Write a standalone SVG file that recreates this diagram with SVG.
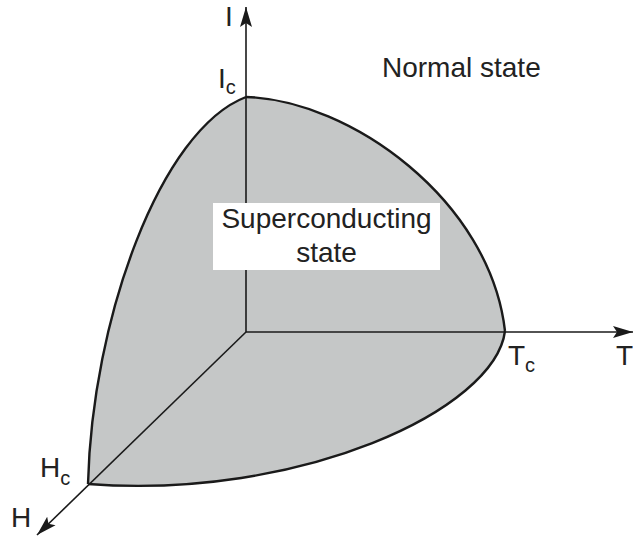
<svg xmlns="http://www.w3.org/2000/svg" width="633" height="540" viewBox="0 0 633 540">
  <style>
    .lbl { font-family: "Liberation Sans", Arial, sans-serif; fill: #222; }
    .big { font-size: 28px; }
    .sub { font-size: 20px; }
    .axis { stroke: #1a1a1a; stroke-width: 1.6; fill: none; }
    .edge { stroke: #1a1a1a; stroke-width: 2.4; fill: none; }
  </style>
  <defs>
    <marker id="arrow" markerUnits="userSpaceOnUse" markerWidth="22" markerHeight="14" refX="20" refY="7" orient="auto" viewBox="0 0 22 14">
      <path d="M0,1 L20,7 L0,13 L4,7 z" fill="#1a1a1a"/>
    </marker>
  </defs>
  <rect width="633" height="540" fill="#ffffff"/>

  <g id="region">
    <path d="M246,97 C350,100 490,200 505,331 C495,410 300,500 88,484 C92,320 160,130 246,97 z" fill="#c5c7c7" stroke="none"/>
  </g>

  <g id="connectors">
    <line class="axis" x1="246" y1="332" x2="246" y2="7" marker-end="url(#arrow)"/>
    <line class="axis" x1="246" y1="332" x2="633" y2="332" marker-end="url(#arrow)"/>
    <line class="axis" x1="246" y1="332" x2="37" y2="535" marker-end="url(#arrow)"/>
  </g>

  <g id="boundary">
    <path class="edge" d="M246,97 C350,100 490,200 505,331"/>
    <path class="edge" d="M505,331 C495,410 300,500 88,484"/>
    <path class="edge" d="M88,484 C92,320 160,130 246,97"/>
  </g>

  <g id="superconducting-label">
    <rect x="213" y="203" width="227" height="67" fill="#ffffff"/>
    <text class="lbl big" x="326.5" y="228" text-anchor="middle">Superconducting</text>
    <text class="lbl big" x="326.5" y="262" text-anchor="middle">state</text>
  </g>

  <g id="normal-label">
    <text class="lbl big" x="382" y="77">Normal state</text>
  </g>

  <g id="axis-labels">
    <text class="lbl big" x="225" y="26">I</text>
    <text class="lbl big" x="616" y="365">T</text>
    <text class="lbl big" x="11" y="527">H</text>
  </g>

  <g id="critical-labels">
    <text class="lbl big" x="218" y="88">I<tspan class="sub" dy="6">c</tspan></text>
    <text class="lbl big" x="508" y="365">T<tspan class="sub" dy="7">c</tspan></text>
    <text class="lbl big" x="40" y="477">H<tspan class="sub" dy="8">c</tspan></text>
  </g>
</svg>
